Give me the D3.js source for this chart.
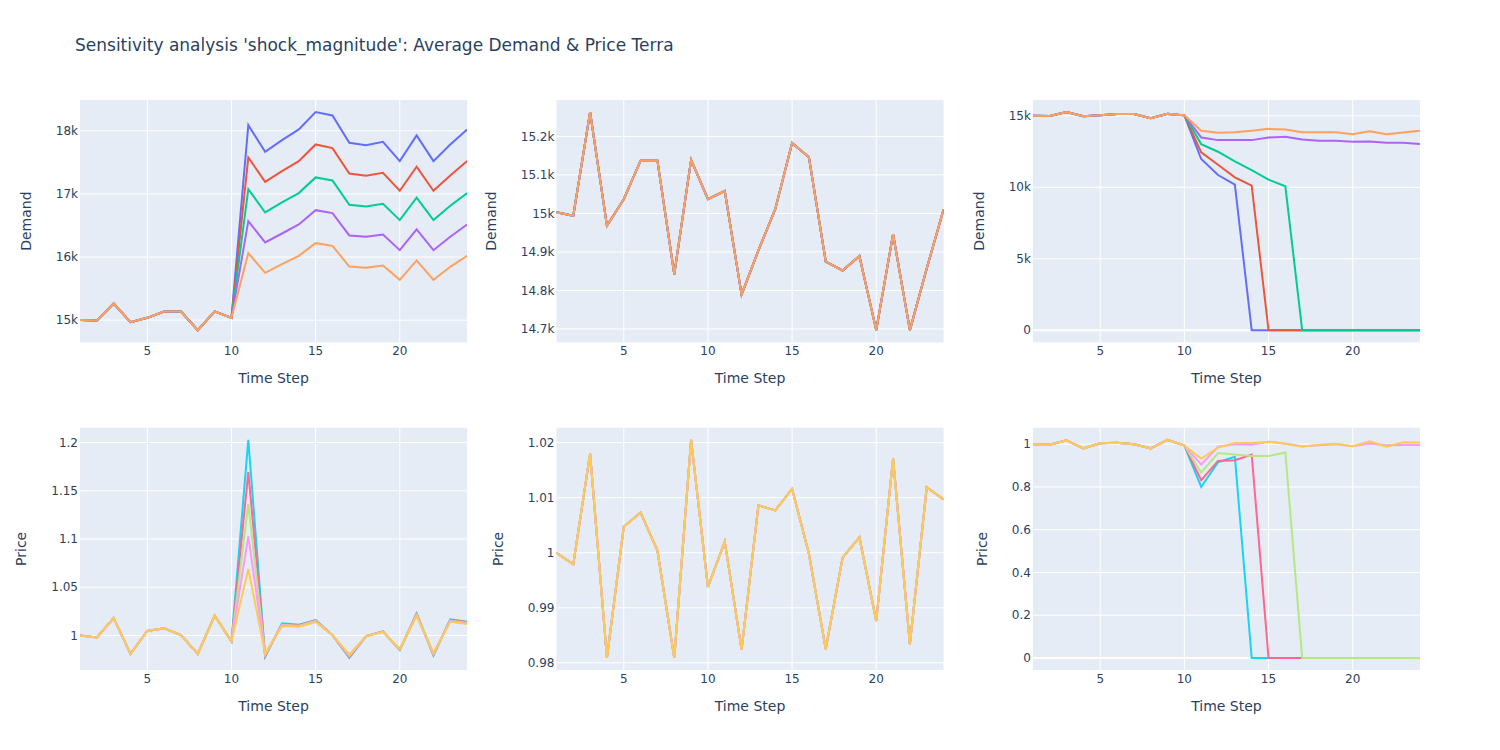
<!DOCTYPE html>
<html>
<head>
<meta charset="utf-8">
<script src="https://cdn.jsdelivr.net/npm/d3@7"></script>
<style>
  body { margin: 0; background: #fff; }
  svg { display: block; font-family: "DejaVu Sans", Verdana, sans-serif; }
  .tick-label { fill: #2a3f5f; font-size: 12px; }
  .axis-title { fill: #2a3f5f; font-size: 14px; }
  .chart-title { fill: #2a3f5f; font-size: 17px; }
</style>
</head>
<body>
<svg id="chart"></svg>
<script>

//////////
// DATA //
//////////

let chartTitle = "Sensitivity analysis 'shock_magnitude': Average Demand & Price Terra";

let timeSteps = [1, 2, 3, 4, 5, 6, 7, 8, 9, 10, 11, 12, 13, 14, 15, 16, 17, 18, 19, 20, 21, 22, 23, 24];

let demandColors = ["#636efa", "#EF553B", "#00cc96", "#ab63fa", "#FFA15A"];
let priceColors = ["#19d3f3", "#FF6692", "#B6E880", "#FF97FF", "#FECB52"];

// steps 1-10 are shared by every run (before the shock)
let demandPre = [15003, 14994, 15263, 14968, 15037, 15137, 15137, 14842, 15139, 15037];
let pricePre = [1.0000, 0.9979, 1.0180, 0.9809, 1.0047, 1.0073, 1.0004, 0.9809, 1.0205, 0.9938];

// no shock: all runs identical
let demandFlat = [15003, 14994, 15263, 14968, 15037, 15137, 15137, 14842, 15139, 15037, 15058, 14789,
  14904, 15011, 15183, 15146, 14875, 14852, 14889, 14697, 14946, 14697, 14857, 15010];
let priceFlat = [1.0000, 0.9979, 1.0180, 0.9809, 1.0047, 1.0073, 1.0004, 0.9809, 1.0205, 0.9938, 1.0020, 0.9824,
  1.0086, 1.0077, 1.0116, 0.9998, 0.9825, 0.9991, 1.0028, 0.9876, 1.0171, 0.9834, 1.0119, 1.0097];

// demand shock
let demandUp1 = [...demandPre, 18090, 17668, 17853, 18022, 18296, 18244, 17810, 17773, 17826, 17520, 17927, 17520, 17784, 18022];
let demandUp2 = [...demandPre, 17578, 17192, 17361, 17520, 17784, 17726, 17324, 17287, 17335, 17050, 17430, 17050, 17293, 17520];
let demandUp3 = [...demandPre, 17076, 16706, 16865, 17013, 17261, 17213, 16828, 16801, 16844, 16585, 16939, 16585, 16812, 17013];
let demandUp4 = [...demandPre, 16569, 16231, 16373, 16516, 16743, 16696, 16342, 16321, 16358, 16109, 16437, 16109, 16321, 16516];
let demandUp5 = [...demandPre, 16062, 15750, 15887, 16020, 16220, 16178, 15850, 15829, 15866, 15639, 15946, 15639, 15845, 16020];

let priceUp1 = [...pricePre, 1.2028, 0.9778, 1.0125, 1.0111, 1.0160, 1.0003, 0.9767, 0.9993, 1.0042, 0.9847, 1.0229, 0.9792, 1.0167, 1.0142];
let priceUp2 = [...pricePre, 1.1694, 0.9787, 1.0118, 1.0106, 1.0155, 1.0003, 0.9776, 0.9993, 1.0040, 0.9851, 1.0222, 0.9798, 1.0161, 1.0136];
let priceUp3 = [...pricePre, 1.1365, 0.9796, 1.0111, 1.0101, 1.0150, 1.0003, 0.9785, 0.9993, 1.0038, 0.9855, 1.0215, 0.9805, 1.0155, 1.0130];
let priceUp4 = [...pricePre, 1.1028, 0.9804, 1.0104, 1.0095, 1.0144, 1.0003, 0.9793, 0.9993, 1.0037, 0.9858, 1.0208, 0.9812, 1.0148, 1.0124];
let priceUp5 = [...pricePre, 1.0688, 0.9813, 1.0097, 1.0090, 1.0139, 1.0003, 0.9802, 0.9993, 1.0035, 0.9861, 1.0201, 0.9819, 1.0142, 1.0118];

// supply shock: big runs collapse to zero
let demandDown1 = [...demandPre, 11977, 10860, 10186, 0, 0, 0, 0, 0, 0, 0, 0, 0, 0, 0];
let demandDown2 = [...demandPre, 12442, 11581, 10698, 10116, 0, 0, 0, 0, 0, 0, 0, 0, 0, 0];
let demandDown3 = [...demandPre, 13023, 12488, 11814, 11209, 10535, 10070, 0, 0, 0, 0, 0, 0, 0, 0];
let demandDown4 = [...demandPre, 13488, 13302, 13302, 13302, 13488, 13535, 13349, 13256, 13256, 13186, 13209, 13116, 13116, 13023];
let demandDown5 = [...demandPre, 13953, 13814, 13860, 13953, 14093, 14047, 13860, 13860, 13860, 13721, 13930, 13721, 13837, 13953];

let priceDown1 = [...pricePre, 0.800, 0.916, 0.941, 0, 0, 0, 0, 0, 0, 0, 0, 0, 0, 0];
let priceDown2 = [...pricePre, 0.832, 0.922, 0.925, 0.952, 0, 0, 0, 0, 0, 0, 0, 0, 0, 0];
let priceDown3 = [...pricePre, 0.867, 0.959, 0.952, 0.945, 0.945, 0.961, 0, 0, 0, 0, 0, 0, 0, 0];
let priceDown4 = [...pricePre, 0.905, 0.988, 1.000, 0.998, 1.012, 1.002, 0.991, 0.995, 1.000, 0.991, 1.003, 0.995, 0.997, 0.997];
let priceDown5 = [...pricePre, 0.933, 0.984, 1.006, 1.006, 1.012, 1.002, 0.988, 0.998, 1.002, 0.991, 1.014, 0.988, 1.009, 1.008];

let panels = [
  { yTitle: "Demand", colors: demandColors, series: [demandUp1, demandUp2, demandUp3, demandUp4, demandUp5] },
  { yTitle: "Demand", colors: demandColors, series: [demandFlat, demandFlat, demandFlat, demandFlat, demandFlat] },
  { yTitle: "Demand", colors: demandColors, series: [demandDown1, demandDown2, demandDown3, demandDown4, demandDown5] },
  { yTitle: "Price", colors: priceColors, series: [priceUp1, priceUp2, priceUp3, priceUp4, priceUp5] },
  { yTitle: "Price", colors: priceColors, series: [priceFlat, priceFlat, priceFlat, priceFlat, priceFlat] },
  { yTitle: "Price", colors: priceColors, series: [priceDown1, priceDown2, priceDown3, priceDown4, priceDown5] }
];

////////////
// LAYOUT //
////////////

let width = 1500, height = 750;
let margin = { l: 80, r: 80, t: 100, b: 80 };
let hSpace = 0.2 / 3, vSpace = 0.3 / 2;
let areaW = width - margin.l - margin.r;
let areaH = height - margin.t - margin.b;
let cellW = areaW * (1 - 2 * hSpace) / 3;
let cellH = areaH * (1 - vSpace) / 2;

let svg = d3.select("#chart")
  .attr("width", width)
  .attr("height", height)
  ;

svg.append("text")
  .classed("chart-title", true)
  .attr("x", 75)
  .attr("y", 51)
  .text(chartTitle)
  ;

let fmtDemand = d3.format("~s");
let fmtPrice = d3.format("~g");

panels.forEach((p, i) => {
  let col = i % 3;
  let row = Math.floor(i / 3);
  let x0 = margin.l + col * (cellW + hSpace * areaW);
  let y0 = margin.t + row * (cellH + vSpace * areaH);

  // autorange like plotly: data fills 90% of the axis
  let all = p.series.flat();
  let lo = d3.min(all), hi = d3.max(all);
  let pad = (hi - lo) / 18;

  let x = d3.scaleLinear().domain(d3.extent(timeSteps)).range([0, cellW]);
  let y = d3.scaleLinear().domain([lo - pad, hi + pad]).range([cellH, 0]);
  let fmt = p.yTitle == "Demand" ? fmtDemand : fmtPrice;

  let g = svg.append("g").attr("transform", `translate(${x0}, ${y0})`);

  g.append("rect")
    .attr("width", cellW)
    .attr("height", cellH)
    .attr("fill", "#E5ECF6")
    ;

  // grid
  let xTicks = x.ticks(5);
  let yTicks = y.ticks(5);

  g.selectAll(".xgrid")
    .data(xTicks)
    .enter()
    .append("line")
    .attr("x1", d => x(d)).attr("x2", d => x(d))
    .attr("y1", 0).attr("y2", cellH)
    .attr("stroke", "#fff")
    .attr("stroke-width", 1)
    ;

  g.selectAll(".ygrid")
    .data(yTicks)
    .enter()
    .append("line")
    .attr("x1", 0).attr("x2", cellW)
    .attr("y1", d => y(d)).attr("y2", d => y(d))
    .attr("stroke", "#fff")
    .attr("stroke-width", d => d == 0 ? 2 : 1)
    ;

  // lines
  let clipId = "clip" + i;
  g.append("clipPath")
    .attr("id", clipId)
    .append("rect")
    .attr("width", cellW)
    .attr("height", cellH)
    ;

  let line = d3.line()
    .x((d, j) => x(timeSteps[j]))
    .y(d => y(d))
    ;

  g.append("g")
    .attr("clip-path", `url(#${clipId})`)
    .selectAll("path")
    .data(p.series)
    .enter()
    .append("path")
    .attr("d", line)
    .attr("fill", "none")
    .attr("stroke", (d, k) => p.colors[k])
    .attr("stroke-width", 2)
    ;

  // tick labels
  g.selectAll(".xlab")
    .data(xTicks)
    .enter()
    .append("text")
    .classed("tick-label", true)
    .attr("x", d => x(d))
    .attr("y", cellH + 13)
    .attr("text-anchor", "middle")
    .text(d => d)
    ;

  let yLabs = g.selectAll(".ylab")
    .data(yTicks)
    .enter()
    .append("text")
    .classed("tick-label", true)
    .attr("x", -2)
    .attr("y", d => y(d))
    .attr("dy", "0.35em")
    .attr("text-anchor", "end")
    .text(d => fmt(d))
    ;

  let labLeft = d3.min(yLabs.nodes(), n => n.getBBox().x);

  // axis titles
  g.append("text")
    .classed("axis-title", true)
    .attr("text-anchor", "middle")
    .attr("x", cellW / 2)
    .attr("y", cellH + 41)
    .text("Time Step")
    ;

  g.append("text")
    .classed("axis-title", true)
    .attr("text-anchor", "middle")
    .attr("dy", "0.35em")
    .attr("transform", `translate(${labLeft - 30}, ${cellH / 2}) rotate(-90)`)
    .text(p.yTitle)
    ;
});

</script>
</body>
</html>
